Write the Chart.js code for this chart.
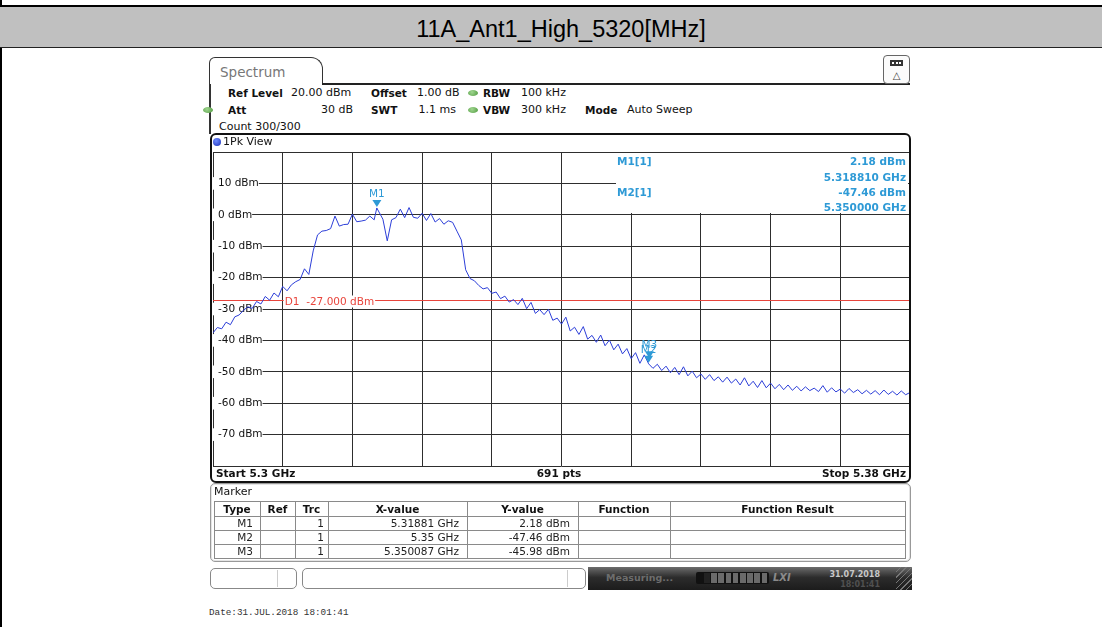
<!DOCTYPE html>
<html>
<head>
<meta charset="utf-8">
<script src="https://cdn.jsdelivr.net/npm/chart.js@4.4.1/dist/chart.umd.min.js"></script>
<style>
  html, body { margin: 0; padding: 0; }
  body { width: 1102px; height: 627px; position: relative; overflow: hidden; background: #fff;
         font-family: "DejaVu Sans", sans-serif; color: #111; }
  .a { position: absolute; white-space: nowrap; line-height: 14px; }
  .r { position: absolute; box-sizing: border-box; }
  #plot { position: absolute; left: 212px; top: 151px; }
</style>
</head>
<body>
<canvas id="plot" width="699" height="316"></canvas>
<script>
// spectrum trace (MHz / dBm)
const traceFreq = [
  5300, 5300.5, 5301, 5301.5, 5302, 5302.5, 5303, 5303.5, 5304, 5304.5,
  5305, 5305.5, 5306, 5306.5, 5307, 5307.5, 5308, 5308.5, 5309, 5309.5,
  5310, 5310.5, 5311, 5311.5, 5312, 5312.5, 5313, 5313.5, 5314, 5314.5,
  5315, 5315.5, 5316, 5316.5, 5317, 5317.5, 5318, 5318.5, 5318.8, 5319.5,
  5320, 5320.5, 5321, 5321.5, 5322, 5322.5, 5323, 5323.5, 5324, 5324.5,
  5325, 5325.5, 5326, 5326.5, 5327, 5327.5, 5328, 5328.5, 5329, 5329.5,
  5330, 5330.5, 5331, 5331.5, 5332, 5332.5, 5333, 5333.5, 5334, 5334.5,
  5335, 5335.5, 5336, 5336.5, 5337, 5337.5, 5338, 5338.5, 5339, 5339.5,
  5340, 5340.5, 5341, 5341.5, 5342, 5342.5, 5343, 5343.5, 5344, 5344.5,
  5345, 5345.5, 5346, 5346.5, 5347, 5347.5, 5348, 5348.5, 5349, 5349.5,
  5350, 5350.5, 5351, 5351.5, 5352, 5352.5, 5353, 5353.5, 5354, 5354.5,
  5355, 5355.5, 5356, 5356.5, 5357, 5357.5, 5358, 5358.5, 5359, 5359.5,
  5360, 5360.5, 5361, 5361.5, 5362, 5362.5, 5363, 5363.5, 5364, 5364.5,
  5365, 5365.5, 5366, 5366.5, 5367, 5367.5, 5368, 5368.5, 5369, 5369.5,
  5370, 5370.5, 5371, 5371.5, 5372, 5372.5, 5373, 5373.5, 5374, 5374.5,
  5375, 5375.5, 5376, 5376.5, 5377, 5377.5, 5378, 5378.5, 5379, 5379.5,
  5380
];
const traceLevel = [
  -37.6, -35.9, -36.3, -34.2, -35.0, -32.5, -31.9, -30.4, -29.3, -29.8,
  -27.6, -28.4, -26.0, -27.2, -24.9, -26.1, -22.8, -24.2, -22.3, -21.3,
  -20.6, -17.2, -19.0, -11.5, -6.4, -5.2, -5.0, -4.4, -0.4, -3.6,
  -3.1, -3.0, 0.2, -2.2, -2.0, -1.7, -0.4, -1.6, 2.18, -1.4,
  -8.3, -1.6, -0.9, 1.8, -0.9, 2.3, -0.8, -1.1, 0.5, -1.8,
  0.4, -2.3, -1.2, -3.0, -1.9, -2.4, -5.2, -8.0, -17.5, -20.3,
  -21.0, -22.5, -23.6, -23.2, -25.0, -24.6, -26.7, -25.9, -27.8, -27.0,
  -28.6, -26.6, -29.9, -27.9, -31.4, -30.2, -31.8, -30.1, -33.6, -32.9,
  -34.8, -32.6, -37.0, -35.8, -38.1, -35.6, -39.6, -38.4, -40.6, -38.3,
  -41.7, -39.9, -43.0, -41.2, -44.3, -42.6, -45.8, -43.9, -47.3, -44.6,
  -47.46, -48.9, -47.6, -49.6, -48.2, -50.3, -48.6, -50.9, -48.4, -51.3,
  -49.8, -51.9, -50.7, -52.4, -50.9, -52.8, -51.6, -53.3, -51.7, -53.6,
  -52.3, -54.2, -51.9, -54.5, -53.0, -55.0, -52.8, -55.1, -53.6, -55.4,
  -54.0, -55.7, -54.2, -55.9, -54.6, -56.1, -54.8, -56.0, -55.2, -56.3,
  -54.4, -56.5, -55.1, -56.4, -55.5, -56.8, -55.3, -56.6, -55.7, -57.0,
  -55.9, -57.1, -56.0, -57.3, -55.8, -57.2, -56.2, -57.4, -56.1, -57.3,
  -56.6
];

const markerName = ["M1", "M2", "M3"];
const markerFreq = [5318.81, 5350.0, 5350.087];
const markerLevel = [2.18, -47.46, -45.98];
const markerX = ["5.31881 GHz", "5.35 GHz", "5.350087 GHz"];
const markerY = ["2.18 dBm", "-47.46 dBm", "-45.98 dBm"];

const displayLine = -27;
const displayLabel = "D1  -27.000 dBm";
const freqStart = 5300, freqStop = 5380, freqDiv = 8;
const levelTop = 20, levelBottom = -80, levelDiv = 10;

const markerBlue = "#2e9ad6";

function txt(x, y, s, o) {
  o = o || {};
  const d = document.createElement("div");
  d.className = "a";
  d.textContent = s;
  d.style.fontSize = (o.size || 11) + "px";
  if (o.bold) d.style.fontWeight = "bold";
  if (o.italic) d.style.fontStyle = "italic";
  if (o.color) d.style.color = o.color;
  if (o.font) d.style.fontFamily = o.font;
  d.style.top = (y - 7) + "px";
  if (o.align === "right") d.style.right = (1102 - x) + "px";
  else if (o.align === "center") { d.style.left = (x - 150) + "px"; d.style.width = "300px"; d.style.textAlign = "center"; }
  else d.style.left = x + "px";
  if (o.z) d.style.zIndex = o.z;
  document.body.appendChild(d);
  return d;
}

function rect(x, y, w, h, css, z) {
  const d = document.createElement("div");
  d.className = "r";
  d.style.cssText += `left:${x}px;top:${y}px;width:${w}px;height:${h}px;` + (css || "");
  if (z) d.style.zIndex = z;
  document.body.appendChild(d);
  return d;
}

// page table frame + header band
rect(0, 0, 2, 627, "background:#000");
rect(0, 5, 1102, 2, "background:#000");
rect(0, 7, 1102, 41, "background:#c0c0c0;border-bottom:1px solid #222");
txt(561, 29, "11A_Ant1_High_5320[MHz]", { font: "'Liberation Sans', Arial, sans-serif", size: 23.5, align: "center", color: "#000" });

// Spectrum tab and header
rect(209, 57, 114, 28, "border:1.5px solid #333;border-bottom:none;border-radius:6px 12px 0 0;background:#fff");
txt(220, 72, "Spectrum", { size: 13.5, color: "#777" });
rect(322, 83, 588, 1.5, "background:#222");
rect(209, 84, 1.5, 50, "background:#333");
rect(883, 55, 27, 29, "border:1px solid #666;border-radius:4px;background:#fbfbfb");
rect(890, 60, 13, 6, "background:#333;border:1px solid #333");
rect(892, 62, 2, 2, "background:#fff");
rect(895.5, 62, 2, 2, "background:#fff");
rect(899, 62, 2, 2, "background:#fff");
txt(896.5, 76, "\u25B3", { size: 10, color: "#444", align: "center" });

function dot(cx, cy) {
  rect(cx - 5, cy - 3, 10, 6, "border-radius:50%;background:radial-gradient(circle at 40% 35%,#9fd58f,#4f9a3e)");
}
txt(228, 93, "Ref Level", { bold: true, size: 10.5 });
txt(291, 93, "20.00 dBm", { size: 11 });
txt(371, 93, "Offset", { bold: true, size: 10.5 });
txt(417, 93, "1.00 dB", { size: 11 });
dot(473, 93);
txt(483, 93, "RBW", { bold: true, size: 10.5 });
txt(521, 93, "100 kHz", { size: 11 });

dot(208, 110);
txt(228, 110, "Att", { bold: true, size: 10.5 });
txt(353, 110, "30 dB", { size: 11, align: "right" });
txt(371, 110, "SWT", { bold: true, size: 10.5 });
txt(456, 110, "1.1 ms", { size: 11, align: "right" });
dot(473, 110);
txt(483, 110, "VBW", { bold: true, size: 10.5 });
txt(521, 110, "300 kHz", { size: 11 });
txt(585, 110, "Mode", { bold: true, size: 10.5 });
txt(627, 110, "Auto Sweep", { size: 11 });
txt(219, 127, "Count 300/300", { size: 11 });

// plot frame
rect(210, 133, 701, 350, "border:2px solid #111;border-radius:6px");
rect(213, 138, 8, 8, "border-radius:50%;background:radial-gradient(circle at 40% 35%,#6f8cff,#1a2fb8)");
txt(223, 142, "1Pk View", { size: 11 });
txt(216, 473, "Start 5.3 GHz", { bold: true, size: 10.5 });
txt(559, 473, "691 pts", { bold: true, size: 10.5, align: "center" });
txt(906, 473, "Stop 5.38 GHz", { bold: true, size: 10.5, align: "right" });

// marker readout in the diagram
rect(616, 153, 292, 60, "background:#fff", 2);
txt(617, 161, "M1[1]", { bold: true, size: 10.5, color: markerBlue, z: 3 });
txt(906, 161, markerY[0], { bold: true, size: 10.5, color: markerBlue, align: "right", z: 3 });
txt(906, 177, "5.318810 GHz", { bold: true, size: 10.5, color: markerBlue, align: "right", z: 3 });
txt(617, 192, "M2[1]", { bold: true, size: 10.5, color: markerBlue, z: 3 });
txt(906, 192, markerY[1], { bold: true, size: 10.5, color: markerBlue, align: "right", z: 3 });
txt(906, 207, "5.350000 GHz", { bold: true, size: 10.5, color: markerBlue, align: "right", z: 3 });

// marker table
rect(210, 483, 701, 79, "border:1.5px solid #999;border-radius:5px;box-shadow:inset 0 0 0 1px #e4e4e4");
txt(214, 492, "Marker", { size: 11 });
const colX = [214, 260, 295, 328, 467, 578, 670, 905];
const rowY = [501, 516, 530, 544, 558];
rowY.forEach(y => rect(colX[0], y, colX[7] - colX[0], 1, "background:#8a8a8a"));
colX.forEach(x => rect(x, rowY[0], 1, rowY[4] - rowY[0] + 1, "background:#8a8a8a"));
const heads = ["Type", "Ref", "Trc", "X-value", "Y-value", "Function", "Function Result"];
heads.forEach((h, i) => txt((colX[i] + colX[i + 1]) / 2, 509, h, { bold: true, size: 10.5, align: "center" }));
markerName.forEach((m, i) => {
  const y = 523 + i * 14;
  txt(colX[1] - 7, y, m, { size: 10.5, align: "right", color: "#222" });
  txt(colX[3] - 4, y, "1", { size: 10.5, align: "right", color: "#222" });
  txt(colX[4] - 8, y, markerX[i], { size: 10.5, align: "right", color: "#222" });
  txt(colX[5] - 8, y, markerY[i], { size: 10.5, align: "right", color: "#222" });
});

// status bar
rect(210, 568, 87, 21, "border:1px solid #888;border-radius:5px;background:#fff");
rect(277, 570, 1, 17, "background:#ccc");
rect(302, 568, 284, 21, "border:1px solid #888;border-radius:5px;background:#fff");
rect(567, 570, 1, 17, "background:#ccc");
rect(588, 567, 324, 23, "background:linear-gradient(to bottom,#6c6c6c 0%,#2c2c2c 45%,#1c1c1c 100%)");
rect(896, 567, 16, 23, "background:repeating-linear-gradient(135deg,transparent 0 3px,#777 3px 4px)");
txt(606, 578, "Measuring...", { bold: true, size: 9.5, color: "#6d6d6d" });
rect(696, 572, 73, 12, "background:#111;border-radius:2px");
for (let i = 0; i < 9; i++) {
  rect(704 + i * 7.2, 573, 5.6, 10, "background:" + (i < 1 ? "#222" : "#6a6a6a"));
}
txt(773, 578, "LXI", { bold: true, italic: true, size: 10, color: "#8a8a8a" });
txt(880, 575, "31.07.2018", { bold: true, size: 8, color: "#c8c8c8", align: "right" });
txt(880, 585, "18:01:41", { bold: true, size: 8, color: "#505050", align: "right" });

txt(209, 613, "Date:31.JUL.2018 18:01:41", { font: "'Liberation Mono', 'DejaVu Sans Mono', monospace", size: 9.3, color: "#333" });

// chart: grid, trace, display line, markers
Chart.defaults.font.family = "'DejaVu Sans', sans-serif";

const overlay = {
  id: "overlay",
  beforeDatasetsDraw(chart) {
    const { ctx, chartArea, scales } = chart;
    const yy = Math.round(scales.y.getPixelForValue(displayLine)) + 0.5;
    ctx.save();
    ctx.strokeStyle = "#e8453c";
    ctx.lineWidth = 1;
    ctx.beginPath();
    ctx.moveTo(chartArea.left, yy);
    ctx.lineTo(chartArea.right, yy);
    ctx.stroke();
    ctx.font = "10.5px 'DejaVu Sans'";
    const w = ctx.measureText(displayLabel).width;
    const lx = scales.x.getPixelForValue(freqStart + freqDiv) + 2;
    ctx.fillStyle = "#fff";
    ctx.fillRect(lx - 1, yy - 5, w + 2, 12);
    ctx.fillStyle = "#e8453c";
    ctx.textBaseline = "middle";
    ctx.fillText(displayLabel, lx, yy + 2);
    ctx.restore();
  },
  afterDatasetsDraw(chart) {
    const { ctx, scales } = chart;
    ctx.save();
    ctx.font = "10.5px 'DejaVu Sans'";
    ctx.textAlign = "center";
    ctx.textBaseline = "middle";
    markerName.forEach((m, i) => {
      const px = scales.x.getPixelForValue(markerFreq[i]);
      const py = scales.y.getPixelForValue(markerLevel[i]);
      ctx.fillStyle = markerBlue;
      ctx.beginPath();
      ctx.moveTo(px - 4.5, py - 8);
      ctx.lineTo(px + 4.5, py - 8);
      ctx.lineTo(px, py - 1);
      ctx.closePath();
      ctx.fill();
      ctx.fillText(m, px, py - 14);
    });
    ctx.restore();
  }
};

const edgeTick = v => v === levelTop || v === levelBottom;

new Chart(document.getElementById("plot").getContext("2d"), {
  type: "line",
  data: {
    datasets: [{
      data: traceFreq.map((f, i) => ({ x: f, y: traceLevel[i] })),
      borderColor: "#2c3ed8",
      borderWidth: 1,
      pointRadius: 0,
      tension: 0
    }]
  },
  options: {
    responsive: false,
    animation: false,
    devicePixelRatio: 1,
    layout: { padding: 1 },
    plugins: { legend: { display: false }, tooltip: { enabled: false } },
    scales: {
      x: {
        type: "linear",
        min: freqStart,
        max: freqStop,
        ticks: { display: false, stepSize: freqDiv },
        grid: { color: "#2e2e2e", lineWidth: 1, drawTicks: false },
        border: { display: false },
        afterFit(s) { s.height = 0; s.paddingLeft = 0; s.paddingRight = 0; }
      },
      y: {
        min: levelBottom,
        max: levelTop,
        ticks: {
          stepSize: levelDiv,
          mirror: true,
          padding: 5,
          color: "#111",
          font: { size: 10.5 },
          showLabelBackdrop: true,
          backdropColor: c => edgeTick(c.tick.value) ? "rgba(0,0,0,0)" : "#fff",
          backdropPadding: { left: 5, right: 0, top: 0, bottom: 0 },
          callback: v => edgeTick(v) ? "" : v + " dBm"
        },
        grid: { color: "#2e2e2e", lineWidth: 1, drawTicks: false },
        border: { display: false },
        afterFit(s) { s.width = 0; s.paddingTop = 0; s.paddingBottom = 0; }
      }
    }
  },
  plugins: [overlay]
});
</script>
</body>
</html>
